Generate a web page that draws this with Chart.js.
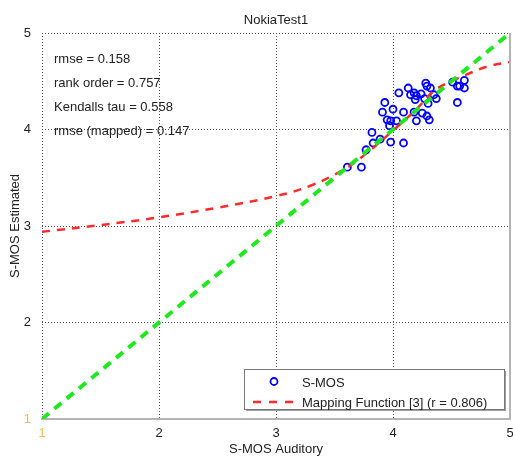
<!DOCTYPE html>
<html>
<head>
<meta charset="utf-8">
<script src="https://cdn.jsdelivr.net/npm/chart.js@4/dist/chart.umd.min.js"></script>
<style>
  html, body { margin: 0; padding: 0; background: #fff; }
  #wrap { width: 513px; height: 459px; }
</style>
</head>
<body>
<div id="wrap"><canvas id="c" width="513" height="459"></canvas></div>
<script>
// Per-sample scores: auditory S-MOS vs. estimated S-MOS
const sMosAuditory = [
  3.61, 3.73, 3.77, 3.83, 3.82, 3.89, 3.98, 4.09, 3.93, 3.91,
  4.00, 3.95, 3.98, 3.97, 4.03, 4.05, 4.09, 4.13, 4.15, 4.18,
  4.20, 4.24, 4.19, 4.27, 4.18, 4.20, 4.25, 4.31, 4.29, 4.30,
  4.28, 4.29, 4.32, 4.35, 4.37, 4.51, 4.55, 4.57, 4.61, 4.61,
  4.55
];
const sMosEstimated = [
  3.61, 3.61, 3.79, 3.86, 3.97, 3.90, 3.87, 3.86, 4.28, 4.18,
  4.21, 4.10, 4.09, 4.04, 4.09, 4.38, 4.18, 4.43, 4.36, 4.38,
  4.35, 4.37, 4.31, 4.32, 4.18, 4.09, 4.17, 4.10, 4.14, 4.27,
  4.48, 4.45, 4.43, 4.36, 4.32, 4.49, 4.45, 4.45, 4.51, 4.43,
  4.28
];

// Mapping function [3], sampled along the auditory axis
const mapAuditory  = [1.0, 1.5, 2.0, 2.5, 3.0, 3.3, 3.6, 3.8, 4.0, 4.2, 4.35, 4.5, 4.65, 4.8, 5.0];
const mapEstimated = [2.94, 3.01, 3.09, 3.19, 3.31, 3.42, 3.60, 3.78, 3.99, 4.21, 4.40, 4.50, 4.58, 4.65, 4.70];

// Identity reference line
const identityX = [1, 5];
const identityY = [1, 5];

// Axis ticks
const tickValues = [1, 2, 3, 4, 5];

// Text
const chartTitle = 'NokiaTest1';
const xTitle = 'S-MOS Auditory';
const yTitle = 'S-MOS Estimated';
const statLines = ['rmse = 0.158', 'rank order = 0.757', 'Kendalls tau = 0.558', 'rmse (mapped) = 0.147'];
const legendLabels = ['S-MOS', 'Mapping Function [3] (r = 0.806)'];

const FONT = '"Liberation Sans", Arial, sans-serif';
const BLUE = '#0000ff';
const RED = '#ff2a2a';
const GREEN = '#1ee81e';

const toPoints = (xs, ys) => xs.map((x, i) => ({ x, y: ys[i] }));

// Title, statistics text, right frame edge and the boxed legend
const annotations = {
  id: 'annotations',
  afterDraw(chart) {
    const ctx = chart.ctx;
    const area = chart.chartArea;
    ctx.save();

    // right frame edge
    ctx.strokeStyle = '#b4b4b4';
    ctx.lineWidth = 2;
    ctx.beginPath();
    ctx.moveTo(area.right, area.top);
    ctx.lineTo(area.right, area.bottom + 1);
    ctx.stroke();

    // title
    ctx.fillStyle = '#222';
    ctx.font = '13px ' + FONT;
    ctx.textAlign = 'center';
    ctx.textBaseline = 'alphabetic';
    ctx.fillText(chartTitle, (area.left + area.right) / 2, 24);

    // statistics
    ctx.textAlign = 'left';
    statLines.forEach((t, i) => ctx.fillText(t, area.left + 12, 63 + i * 24));

    // legend box with shadow
    const bx = 244, by = 369, bw = 260, bh = 40;
    ctx.fillStyle = '#a0a0a0';
    ctx.fillRect(bx + 2, by + 2, bw, bh);
    ctx.fillStyle = '#fff';
    ctx.fillRect(bx, by, bw, bh);
    ctx.strokeStyle = '#777';
    ctx.lineWidth = 1;
    ctx.strokeRect(bx + 0.5, by + 0.5, bw, bh);

    // legend entry 1: circle marker
    ctx.strokeStyle = BLUE;
    ctx.lineWidth = 1.8;
    ctx.beginPath();
    ctx.arc(274, 381.5, 3.5, 0, Math.PI * 2);
    ctx.stroke();

    // legend entry 2: dashed red line
    ctx.strokeStyle = RED;
    ctx.lineWidth = 2.5;
    ctx.setLineDash([8, 8]);
    ctx.beginPath();
    ctx.moveTo(253, 402);
    ctx.lineTo(297, 402);
    ctx.stroke();
    ctx.setLineDash([]);

    ctx.fillStyle = '#222';
    ctx.fillText(legendLabels[0], 302, 386.5);
    ctx.fillText(legendLabels[1], 302, 406.5);
    ctx.restore();
  }
};

const tickColor = (c) => (c.tick && c.tick.value === 1 ? '#f0b868' : '#222');

new Chart(document.getElementById('c'), {
  type: 'scatter',
  data: {
    datasets: [
      {
        label: legendLabels[0],
        data: toPoints(sMosAuditory, sMosEstimated),
        pointStyle: 'circle',
        pointRadius: 3.5,
        pointHoverRadius: 3.5,
        borderWidth: 1.8,
        borderColor: BLUE,
        backgroundColor: 'rgba(0,0,0,0)',
        order: 3
      },
      {
        label: legendLabels[1],
        data: toPoints(mapAuditory, mapEstimated),
        showLine: true,
        pointRadius: 0,
        borderColor: RED,
        borderWidth: 2.5,
        borderDash: [8, 7],
        tension: 0.4,
        fill: false,
        order: 2
      },
      {
        label: 'identity',
        data: toPoints(identityX, identityY),
        showLine: true,
        pointRadius: 0,
        borderColor: GREEN,
        borderWidth: 4,
        borderDash: [9, 7],
        fill: false,
        order: 1
      }
    ]
  },
  options: {
    responsive: false,
    devicePixelRatio: 1,
    animation: false,
    events: [],
    layout: { autoPadding: false, padding: { top: 33, right: 3, left: 0, bottom: 0 } },
    plugins: {
      legend: { display: false },
      title: { display: false },
      tooltip: { enabled: false }
    },
    scales: {
      x: {
        type: 'linear',
        min: 1, max: 5,
        afterBuildTicks: (s) => { s.ticks = tickValues.map(v => ({ value: v })); },
        afterFit: (s) => { s.height = 40; s.paddingLeft = 0; s.paddingRight = 0; },
        ticks: {
          color: tickColor,
          font: { family: FONT, size: 13 },
          padding: 7,
          maxRotation: 0,
          autoSkip: false
        },
        grid: {
          drawTicks: false,
          color: (c) => (c.tick && c.tick.value === 5 ? 'rgba(0,0,0,0)' : '#555'),
          lineWidth: 1
        },
        border: { display: true, color: '#b4b4b4', width: 2, dash: [1, 2] },
        title: {
          display: true,
          text: xTitle,
          color: '#222',
          font: { family: FONT, size: 13 },
          padding: { top: 0, bottom: 2 }
        }
      },
      y: {
        type: 'linear',
        min: 1, max: 5,
        afterBuildTicks: (s) => { s.ticks = tickValues.map(v => ({ value: v })); },
        afterFit: (s) => { s.width = 42; s.paddingTop = 0; s.paddingBottom = 0; },
        ticks: {
          color: tickColor,
          font: { family: FONT, size: 13 },
          padding: 11
        },
        grid: {
          drawTicks: false,
          color: (c) => (c.tick && c.tick.value === 1 ? 'rgba(0,0,0,0)' : '#555'),
          lineWidth: 1
        },
        border: { display: false, dash: [1, 2] },
        title: {
          display: true,
          text: yTitle,
          color: '#222',
          font: { family: FONT, size: 13 },
          padding: { top: 8, bottom: 0 }
        }
      }
    }
  },
  plugins: [annotations]
});
</script>
</body>
</html>
